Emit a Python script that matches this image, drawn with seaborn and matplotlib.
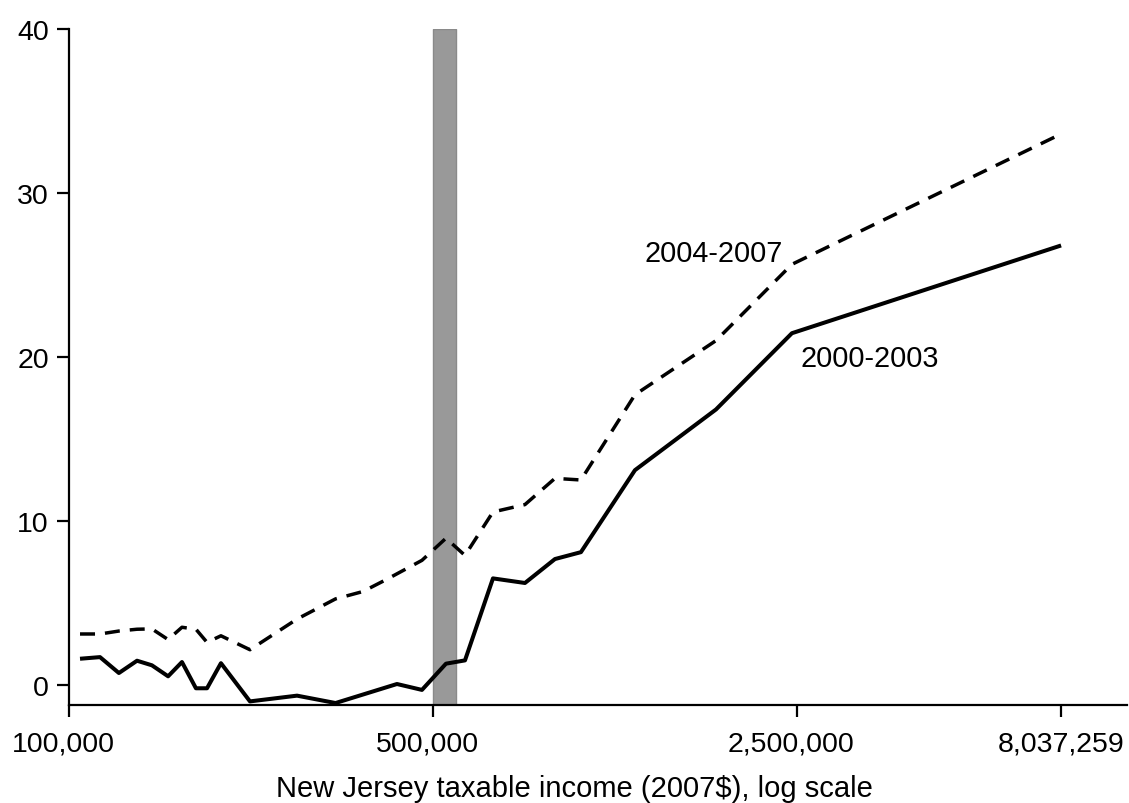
import matplotlib
matplotlib.use("Agg")
import matplotlib.pyplot as plt
import matplotlib.transforms as mtransforms
import seaborn as sns
import pandas as pd

# Top income shares by income level, two periods (log-scaled income axis)
income_2000_03 = [105000, 114700, 124700, 135100, 144300, 155000, 164800, 175300,
                  184100, 195800, 222600, 274100, 325000, 426400, 476200, 529600,
                  576000, 651900, 750900, 857500, 961800, 1221400, 1747500,
                  2444800, 8037259]
share_2000_03 = [1.60, 1.70, 0.73, 1.48, 1.20, 0.53, 1.40, -0.20,
                 -0.20, 1.33, -1.00, -0.65, -1.10, 0.06, -0.30, 1.30,
                 1.50, 6.50, 6.22, 7.68, 8.10, 13.10, 16.80,
                 21.45, 26.80]

income_2004_07 = [105000, 114700, 124700, 135100, 144300, 155000, 164800, 175300,
                  184100, 195800, 222600, 274100, 325000, 366900, 407900, 476200,
                  529600, 576000, 651900, 750900, 857500, 961800, 1221400,
                  1747500, 2444800, 8037259]
share_2004_07 = [3.11, 3.11, 3.29, 3.40, 3.42, 2.77, 3.52, 3.40,
                 2.60, 3.00, 2.15, 4.02, 5.25, 5.70, 6.45, 7.60,
                 8.95, 7.90, 10.55, 11.00, 12.60, 12.50, 17.70,
                 21.00, 25.65, 33.60]

x_ticks = [100000, 500000, 2500000, 8037259]
x_tick_labels = ["100,000", "500,000", "2,500,000", "8,037,259"]
y_ticks = [0, 10, 20, 30, 40]

band_start, band_end = 500000, 553000

sns.set_theme(style="ticks")
plt.rcParams["font.family"] = ["Liberation Sans", "DejaVu Sans"]
plt.rcParams["lines.scale_dashes"] = False

df_a = pd.DataFrame({"income": income_2000_03, "share": share_2000_03})
df_b = pd.DataFrame({"income": income_2004_07, "share": share_2004_07})

fig = plt.figure(figsize=(11.29, 8.04), dpi=100)
ax = fig.add_axes([0.0611, 0.1223, 0.937, 0.8404])

ax.axvspan(band_start, band_end, facecolor="#999999", edgecolor="#8a8a8a",
           linewidth=1.0, zorder=1)

sns.lineplot(data=df_a, x="income", y="share", ax=ax, color="black",
             linewidth=2.9, sort=False, estimator=None, zorder=3)
sns.lineplot(data=df_b, x="income", y="share", ax=ax, color="black",
             linewidth=2.5, sort=False, estimator=None, zorder=3,
             dashes=(10.8, 7.2))
for ln in ax.lines:
    ln.set_dash_capstyle("butt")
    ln.set_solid_capstyle("butt")

ax.set_xscale("log")
ax.set_xlim(100000, 10750000)
ax.set_ylim(-1.2, 40)

ax.set_xticks(x_ticks)
ax.set_xticklabels(x_tick_labels)
ax.xaxis.set_minor_locator(matplotlib.ticker.NullLocator())
ax.set_yticks(y_ticks)

ax.tick_params(axis="both", which="major", labelsize=20.5, length=8.5,
               width=1.6, color="black", labelcolor="black", direction="out")
ax.tick_params(axis="y", pad=6)
ax.tick_params(axis="x", pad=10)

# nudge the x tick labels slightly left of their ticks
shift = mtransforms.ScaledTranslation(-0.06, 0, fig.dpi_scale_trans)
for lbl in ax.get_xticklabels()[:3]:
    lbl.set_transform(lbl.get_transform() + shift)

for side in ("top", "right"):
    ax.spines[side].set_visible(False)
for side in ("left", "bottom"):
    ax.spines[side].set_linewidth(1.6)
    ax.spines[side].set_color("black")

ax.set_xlabel("")
ax.set_ylabel("")
fig.text(574 / 1129, 1 - 797 / 804,
         r"New Jersey taxable income (2007\$), log scale",
         fontsize=21, ha="center", va="baseline", color="black")

ax.text(1276000, 25.87, "2004-2007", fontsize=20.8, ha="left", va="baseline",
        color="black")
ax.text(2544000, 19.47, "2000-2003", fontsize=20.8, ha="left", va="baseline",
        color="black")

fig.savefig("out.png", dpi=100, facecolor="white")
